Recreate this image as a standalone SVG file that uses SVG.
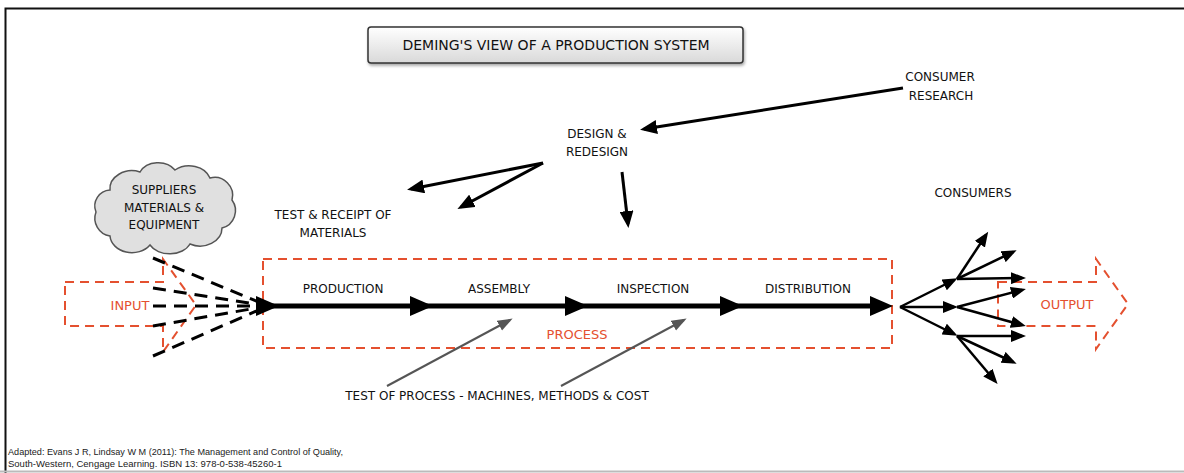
<svg xmlns="http://www.w3.org/2000/svg" width="1184" height="473" viewBox="0 0 1184 473">
<defs>
<linearGradient id="tg" x1="0" y1="0" x2="0" y2="1">
<stop offset="0" stop-color="#ffffff"/>
<stop offset="1" stop-color="#d9d9d9"/>
</linearGradient>
<filter id="sh" x="-10%" y="-20%" width="120%" height="150%">
<feDropShadow dx="1" dy="2" stdDeviation="1.5" flood-color="#000" flood-opacity="0.35"/>
</filter>
<marker id="ah" markerUnits="userSpaceOnUse" markerWidth="18" markerHeight="14" refX="13" refY="7" orient="auto">
<path d="M0,0 L17,7 L0,14 Z" fill="#000"/>
</marker>
<marker id="ahs" markerUnits="userSpaceOnUse" markerWidth="16" markerHeight="12" refX="11" refY="6" orient="auto">
<path d="M0,0 L15,6 L0,12 Z" fill="#000"/>
</marker>
<marker id="ahg" markerUnits="userSpaceOnUse" markerWidth="16" markerHeight="12" refX="12" refY="5.5" orient="auto">
<path d="M0,0 L15,5.5 L0,11 Z" fill="#555"/>
</marker>
</defs>
<style>
.t{font-family:"DejaVu Sans","Liberation Sans",sans-serif;font-size:12px;fill:#111;text-anchor:middle}
.r{font-family:"DejaVu Sans","Liberation Sans",sans-serif;font-size:13px;fill:#e4502f;text-anchor:middle}
.rd{fill:none;stroke:#e4502f;stroke-width:2;stroke-dasharray:9 6}
.bk{fill:none;stroke:#000;stroke-width:3}
.fan{fill:none;stroke:#000;stroke-width:2.5}
.dl{fill:none;stroke:#000;stroke-width:3;stroke-dasharray:13 8}
.gr{fill:none;stroke:#555;stroke-width:2}
.f{font-family:"Liberation Sans",Arial,sans-serif;font-size:9.5px;fill:#222}
</style>
<rect width="1184" height="473" fill="#fff"/>
<path d="M1184,8.5 L5.5,8.5 L5.5,473" fill="none" stroke="#111" stroke-width="2"/>
<line x1="0" y1="471.5" x2="1184" y2="471.5" stroke="#bbb" stroke-width="2"/>

<g id="title">
<rect x="368" y="27" width="375" height="36" rx="3" fill="url(#tg)" stroke="#333" stroke-width="1.5" filter="url(#sh)"/>
<text class="t" x="556" y="50" style="font-size:14px">DEMING'S VIEW OF A PRODUCTION SYSTEM</text>
</g>

<g id="suppliers">
<path d="M110,190 A22,18 0 0 1 140,172 A20,16 0 0 1 175,170 A22,18 0 0 1 210,178 A18,18 0 0 1 232,200 A18,18 0 0 1 222,228 A22,18 0 0 1 190,244 A22,16 0 0 1 150,245 A22,18 0 0 1 110,236 A18,18 0 0 1 96,212 A16,16 0 0 1 110,190 Z" fill="#e0e0e0" stroke="#555" stroke-width="1.5"/>
<text class="t" x="164" y="194">SUPPLIERS</text>
<text class="t" x="164" y="212">MATERIALS &amp;</text>
<text class="t" x="164" y="229">EQUIPMENT</text>
</g>

<g id="input">
<path class="rd" d="M65,282 L163,282 L163,259 L196,305 L163,352 L163,326 L65,326 Z"/>
<text class="r" x="130" y="310">INPUT</text>
</g>

<g id="output">
<path class="rd" d="M998,282 L1096,282 L1096,259 L1128,304 L1096,349 L1096,326 L998,326 Z"/>
<text class="r" x="1067" y="309">OUTPUT</text>
</g>

<g id="process">
<rect class="rd" x="263" y="259" width="629" height="89"/>
<text class="r" x="577" y="339">PROCESS</text>
<text class="t" x="343" y="293">PRODUCTION</text>
<text class="t" x="499" y="293">ASSEMBLY</text>
<text class="t" x="653" y="293">INSPECTION</text>
<text class="t" x="808" y="293">DISTRIBUTION</text>
</g>

<g id="consumer-research">
<text class="t" x="940" y="81">CONSUMER</text>
<text class="t" x="941" y="100">RESEARCH</text>
</g>
<g id="design">
<text class="t" x="597" y="138">DESIGN &amp;</text>
<text class="t" x="597" y="156">REDESIGN</text>
</g>
<g id="test-receipt">
<text class="t" x="333" y="219">TEST &amp; RECEIPT OF</text>
<text class="t" x="333" y="237">MATERIALS</text>
</g>
<g id="consumers">
<text class="t" x="973" y="197">CONSUMERS</text>
</g>
<g id="test-process">
<text class="t" x="497" y="400">TEST OF PROCESS - MACHINES, METHODS &amp; COST</text>
</g>

<g id="connectors">
<line class="bk" x1="903" y1="88" x2="644" y2="129" marker-end="url(#ah)"/>
<line class="bk" x1="543" y1="163" x2="411" y2="189" marker-end="url(#ah)"/>
<line class="bk" x1="543" y1="163" x2="461" y2="207" marker-end="url(#ah)"/>
<line class="bk" x1="622" y1="172" x2="628" y2="224" marker-end="url(#ah)"/>

<line class="dl" x1="153" y1="258" x2="268" y2="306"/>
<line class="dl" x1="153" y1="288" x2="268" y2="306"/>
<line class="dl" x1="153" y1="306" x2="268" y2="306"/>
<line class="dl" x1="153" y1="326" x2="268" y2="306"/>
<line class="dl" x1="153" y1="356" x2="268" y2="306"/>

<line x1="270" y1="306" x2="880" y2="306" stroke="#000" stroke-width="5"/>
<polygon points="256,296 279,306 256,316"/>
<polygon points="410,296 433,306 410,316"/>
<polygon points="565,296 588,306 565,316"/>
<polygon points="720,296 743,306 720,316"/>
<polygon points="870,296 893,306 870,316"/>

<line class="gr" x1="387" y1="386" x2="510" y2="320" marker-end="url(#ahg)"/>
<line class="gr" x1="561" y1="386" x2="684" y2="320" marker-end="url(#ahg)"/>

<line class="fan" x1="900" y1="307" x2="954" y2="280" marker-end="url(#ahs)"/>
<line class="fan" x1="900" y1="307" x2="954" y2="307" marker-end="url(#ahs)"/>
<line class="fan" x1="900" y1="307" x2="954" y2="334" marker-end="url(#ahs)"/>
<line class="fan" x1="957" y1="279" x2="986" y2="235" marker-end="url(#ahs)"/>
<line class="fan" x1="957" y1="279" x2="1013" y2="252" marker-end="url(#ahs)"/>
<line class="fan" x1="957" y1="279" x2="1022" y2="278" marker-end="url(#ahs)"/>
<line class="fan" x1="957" y1="307" x2="1022" y2="290" marker-end="url(#ahs)"/>
<line class="fan" x1="957" y1="307" x2="1022" y2="325" marker-end="url(#ahs)"/>
<line class="fan" x1="957" y1="336" x2="1022" y2="336" marker-end="url(#ahs)"/>
<line class="fan" x1="957" y1="336" x2="1013" y2="362" marker-end="url(#ahs)"/>
<line class="fan" x1="957" y1="336" x2="995" y2="381" marker-end="url(#ahs)"/>
</g>

<text class="f" x="8" y="455" textLength="335" lengthAdjust="spacingAndGlyphs">Adapted: Evans J R, Lindsay W M (2011): The Management and Control of Quality,</text>
<text class="f" x="8" y="467">South-Western, Cengage Learning.  ISBN 13: 978-0-538-45260-1</text>
</svg>
